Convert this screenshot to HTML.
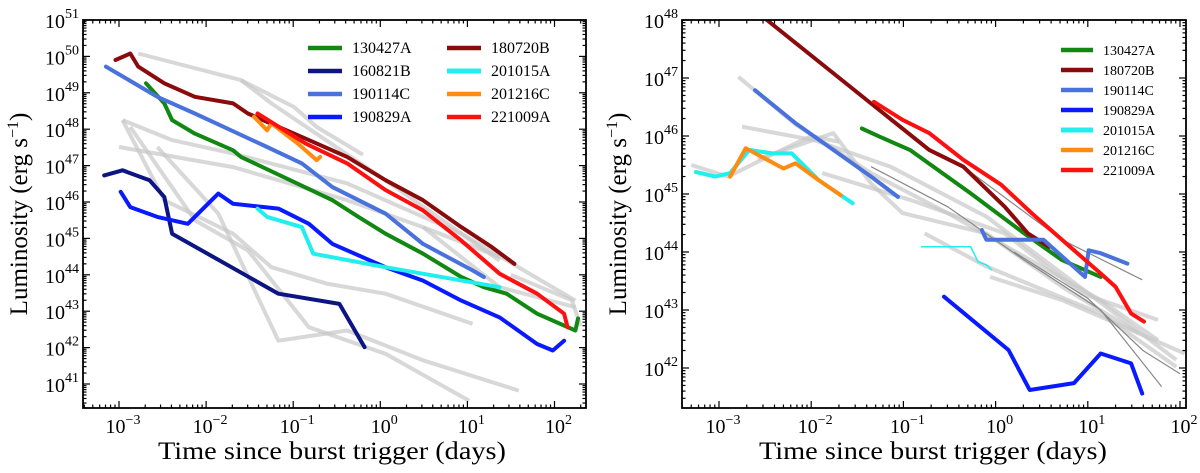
<!DOCTYPE html>
<html><head><meta charset="utf-8"><style>
html,body{margin:0;padding:0;background:#fff;}
svg{display:block;font-family:"Liberation Serif",serif;}
</style></head><body>
<svg id="fig" width="1200" height="473" viewBox="0 0 1200 473"></svg>
<script>
// ---------- LEFT PANEL DATA (log10 days, log10 erg/s) ----------
const leftGray = [
 [[-2.78,50.08],[-1.60,49.35],[-1.25,48.71],[0.06,46.60],[1.37,44.39]],
 [[-2.96,48.25],[-2.39,47.70],[-1.69,47.33],[-0.38,46.51],[0.93,45.13],[2.24,43.29]],
 [[-3.0,47.51],[-1.69,46.96],[-0.38,46.05],[0.49,45.31],[1.37,44.49]],
 [[-2.96,48.25],[-2.48,46.05],[-1.69,45.13],[-1.25,44.21],[-0.60,43.75],[0.06,43.48],[1.06,42.65]],
 [[-2.87,48.06],[-2.13,45.50],[-1.52,44.67],[-0.82,42.56],[0.06,41.83],[1.02,40.54]],
 [[-2.56,47.51],[-1.86,45.68],[-1.17,42.19],[-0.38,42.47],[0.49,41.65],[1.59,40.82]],
 [[-1.60,49.35],[-0.99,48.61],[-0.73,48.06],[-0.2,47.3]],
 [[0.49,45.31],[1.37,43.66],[2.24,43.11]],
 [[1.5,44.0],[2.2,43.3],[2.3,42.6]]
];
const leftNames = ["130427A","160821B","190114C","190829A","180720B","201015A","201216C","221009A"];
const leftColors = ["#118811","#0c1583","#4a72dc","#0a1aff","#8a0b0b","#22eeee","#ff8c10","#ff1010"];
const leftSeries = [
 [[-2.69,49.26],[-2.48,48.71],[-2.39,48.25],[-2.13,47.88],[-1.69,47.42],[-1.60,47.24],[-0.55,46.05],[-0.25,45.59],[0.06,45.13],[0.49,44.58],[0.93,43.94],[1.19,43.66],[1.45,43.48],[1.80,42.93],[2.24,42.47],[2.27,42.8]],
 [[-3.17,46.73],[-2.96,46.87],[-2.65,46.60],[-2.48,46.14],[-2.39,45.13],[-1.17,43.48],[-0.47,43.20],[-0.18,42.01]],
 [[-3.15,49.72],[-2.56,48.89],[-2.13,48.43],[-1.30,47.51],[-0.90,47.06],[-0.55,46.41],[0.06,45.68],[0.49,44.85],[1.06,44.12],[1.19,43.94]],
 [[-2.98,46.28],[-2.87,45.86],[-2.56,45.59],[-2.21,45.40],[-1.86,46.23],[-1.69,45.95],[-1.17,45.82],[-0.82,45.40],[-0.55,44.85],[0.06,44.21],[0.49,43.84],[0.93,43.29],[1.37,42.83],[1.80,42.10],[1.98,41.92],[2.11,42.19]],
 [[-3.04,49.90],[-2.87,50.08],[-2.78,49.72],[-2.48,49.26],[-2.13,48.89],[-1.69,48.71],[-1.52,48.43],[-0.82,47.70],[-0.38,47.24],[0.06,46.60],[0.49,46.05],[0.93,45.31],[1.28,44.76],[1.54,44.30]],
 [[-1.41,45.82],[-1.30,45.59],[-0.90,45.31],[-0.77,44.58],[0.06,44.21],[1.37,43.66]],
 [[-1.45,48.34],[-1.30,47.97],[-1.25,48.16],[-0.95,47.61],[-0.73,47.15],[-0.69,47.24]],
 [[-1.41,48.43],[-0.86,47.61],[-0.38,47.06],[0.06,46.33],[0.49,45.77],[0.93,44.94],[1.37,44.03],[1.80,43.48],[2.11,42.93],[2.15,42.56]]
];
const leftXTicks = [-3,-2,-1,0,1,2];
const leftYTicks = [41,42,43,44,45,46,47,48,49,50,51];

// ---------- RIGHT PANEL DATA ----------
const rightGray = [
 [[-2.79,47.02],[-2.17,46.2],[-1.35,45.36],[-0.52,44.67],[0.31,43.92],[1.14,43.17],[1.76,42.48]],
 [[-2.75,46.16],[-1.97,45.93],[-1.14,45.47],[-0.10,44.61],[0.72,43.63],[1.96,42.14]],
 [[-2.58,45.6],[-1.76,46.05],[-1.35,45.18],[-1.01,44.67],[-0.10,44.32],[0.72,43.40],[1.55,42.60]],
 [[-1.88,45.36],[-0.93,44.90],[0.10,44.32],[0.93,43.29],[1.76,42.83]],
 [[-0.77,44.32],[-0.10,43.75],[1.14,42.94],[1.96,42.02]],
 [[-0.06,43.57],[0.72,43.17],[1.55,42.60],[2.05,42.25]],
 [[-3.3,45.5],[-2.9,45.3],[-2.4,45.7],[-2.0,46.0],[-1.7,45.9]]
];
const rightThin = [
 [[-1.35,45.47],[-0.52,44.78],[0.31,43.86],[1.14,43.00],[1.80,41.68]],
 [[-0.35,45.47],[0.72,44.21],[1.59,43.52]],
 [[0.2,44.0],[1.0,43.2],[1.6,42.3],[2.0,41.9]]
];
const rightNames = ["130427A","180720B","190114C","190829A","201015A","201216C","221009A"];
const rightColors = ["#118811","#8a0b0b","#4a72dc","#0a1aff","#22eeee","#ff8c10","#ff1010"];
const rightSeries = [
 [[[-1.45,46.13],[-1.26,45.99],[-0.93,45.76],[-0.27,45.01],[0.31,44.32],[0.72,43.86],[1.14,43.57]]],
 [[[-2.48,48.0],[-1.35,46.56],[-0.72,45.76],[-0.35,45.47],[0.10,44.78],[0.35,44.32],[0.58,44.09]]],
 [[[-2.61,46.79],[-2.17,46.22],[-1.76,45.76],[-1.35,45.30],[-1.06,44.95]],
  [[-0.15,44.38],[-0.10,44.21],[0.52,44.21],[0.97,43.57],[1.01,44.03],[1.14,43.98],[1.43,43.80]]],
 [[[-0.56,43.23],[0.14,42.31],[0.37,41.62],[0.85,41.74],[1.14,42.25],[1.47,42.08],[1.59,41.56]]],
 [[[-3.25,45.38],[-3.04,45.30],[-2.88,45.36],[-2.67,45.76],[-2.42,45.70],[-2.21,45.70],[-1.92,45.24],[-1.55,44.84]]],
 [[[-2.88,45.30],[-2.71,45.79],[-2.30,45.44],[-2.17,45.53],[-1.92,45.24],[-1.68,44.98]]],
 [[[-1.32,46.59],[-1.01,46.28],[-0.72,46.05],[-0.35,45.59],[0.06,45.16],[0.39,44.67],[0.72,44.21],[1.14,43.63],[1.30,43.40],[1.47,42.94],[1.61,42.80]]]
];
const rightCyanThin = [[-0.81,44.09],[-0.27,44.09],[-0.19,43.83],[-0.10,43.78],[-0.04,43.69]];
const rightXTicks = [-3,-2,-1,0,1,2];
const rightYTicks = [42,43,44,45,46,47,48];

const NS="http://www.w3.org/2000/svg";
const svg=document.getElementById('fig');
function mk(tag,attrs,parent){const e=document.createElementNS(NS,tag);for(const k in attrs)e.setAttribute(k,attrs[k]);(parent||svg).appendChild(e);return e;}

function panel(cfg){
 const g=mk('g',{});
 
 
 const sx=v=>cfg.x0+(v-cfg.xt0)*cfg.dx;
 const sy=v=>cfg.yTop+(cfg.yMaxV-v)*cfg.dy;
 const clip='clip-'+cfg.name;
 const defs=mk('defs',{},g);
 const cp=mk('clipPath',{id:clip},defs);
 mk('rect',{x:cfg.L,y:cfg.T,width:cfg.R-cfg.L,height:cfg.B-cfg.T},cp);
 const plot=mk('g',{'clip-path':'url(#'+clip+')'},g);
 const pts=a=>a.map(p=>sx(p[0]).toFixed(1)+','+sy(p[1]).toFixed(1)).join(' ');
 cfg.gray.forEach(s=>{
  const e=mk('polyline',{points:pts(s),fill:'none',stroke:'#c8c8c8','stroke-opacity':'0.7','stroke-width':4,'stroke-linejoin':'round'},plot);
  
  
 });
 (cfg.thin||[]).forEach(s=>{
  const e=mk('polyline',{points:pts(s),fill:'none',stroke:'#888','stroke-width':1.2},plot);
  
  
 });
 cfg.series.forEach((s,i)=>{
  const segs=cfg.segmented?s:[s];
  segs.forEach(seg=>{
   const e=mk('polyline',{points:pts(seg),fill:'none',stroke:cfg.colors[i],'stroke-width':4,'stroke-linejoin':'round','stroke-linecap':'round'},plot);
   
   
  });
 });
 if(cfg.cyanThin){
  const e=mk('polyline',{points:pts(cfg.cyanThin),fill:'none',stroke:'#22eeee','stroke-width':1.5},plot);
  
  
 }
 const fr=mk('rect',{x:cfg.L,y:cfg.T,width:cfg.R-cfg.L,height:cfg.B-cfg.T,fill:'none',stroke:'#000','stroke-width':1.8},g);
 
 
 for(let d=cfg.xt0-1; d<=cfg.xTicks[cfg.xTicks.length-1]; d++){
  for(let m=1;m<10;m++){
   const v=d+Math.log10(m), x=sx(v);
   if(x<cfg.L||x>cfg.R)continue;
   const len=m===1?7:3.5;
   mk('line',{x1:x,x2:x,y1:cfg.B,y2:cfg.B-len,stroke:'#000','stroke-width':1.2},g);
   mk('line',{x1:x,x2:x,y1:cfg.T,y2:cfg.T+len,stroke:'#000','stroke-width':1.2},g);
  }
 }
 cfg.xTicks.forEach(t=>{
  const tx=mk('text',{x:sx(t)+4,y:433,'text-anchor':'middle','font-size':20},g);
  
  
  tx.textContent='10';
  const sp=mk('tspan',{dy:-9,'font-size':14},tx); sp.textContent=String(t).replace('-','\u2212');
 });
 for(let d=cfg.yTicks[0]-1; d<=cfg.yMaxV; d++){
  for(let m=1;m<10;m++){
   const v=d+Math.log10(m), y=sy(v);
   if(y<cfg.T-0.5||y>cfg.B)continue;
   const len=m===1?7:3.5;
   mk('line',{x1:cfg.L,x2:cfg.L+len,y1:y,y2:y,stroke:'#000','stroke-width':1.2},g);
   mk('line',{x1:cfg.R,x2:cfg.R-len,y1:y,y2:y,stroke:'#000','stroke-width':1.2},g);
  }
 }
 cfg.yTicks.forEach(t=>{
  const tx=mk('text',{x:cfg.L-4,y:sy(t)+8,'text-anchor':'end','font-size':20},g);
  
  
  tx.textContent='10';
  const sp=mk('tspan',{dy:-10,'font-size':14},tx); sp.textContent=String(t);
 });
 const xt=mk('text',{x:cfg.xtc,y:459,'text-anchor':'middle','font-size':25,textLength:348,lengthAdjust:'spacingAndGlyphs'},g);
 
 
 xt.textContent='Time since burst trigger (days)';
 const yt=mk('text',{x:0,y:0,'text-anchor':'middle','font-size':25,transform:'translate('+(cfg.L-56)+',214) rotate(-90)'},g);
 
 
 yt.textContent='Luminosity (erg s';
 const ys=mk('tspan',{dy:-9,'font-size':16},yt); ys.textContent='\u22121';
 const yc=mk('tspan',{dy:9},yt); yc.textContent=')';
 cfg.legend.forEach((L,i)=>{
  const lg=mk('g',{},g);
  
  
  mk('line',{x1:L.x,x2:L.x+L.w,y1:L.y,y2:L.y,stroke:cfg.colors[i],'stroke-width':cfg.names[i]==='201015A'?5:4.5},lg);
  const t=mk('text',{x:L.x+L.w+10,y:L.y+5,'font-size':cfg.lfs},lg); t.textContent=cfg.names[i];
 });
}

const leftLegend=[{x:308,y:48},{x:308,y:71},{x:308,y:94},{x:308,y:117},{x:447,y:48},{x:447,y:71},{x:447,y:94},{x:447,y:117}].map(o=>({...o,w:34}));
const rightLegend=[0,1,2,3,4,5,6].map(i=>({x:1061,y:50+i*20,w:32}));

panel({name:'left-panel',L:83,R:586,T:20,B:408,x0:119,xt0:-3,dx:87.1,yTop:20,yMaxV:51,dy:36.4,xtc:332,
 gray:leftGray,series:leftSeries,colors:leftColors,names:leftNames,xTicks:leftXTicks,yTicks:leftYTicks,legend:leftLegend,lfs:16});
panel({name:'right-panel',L:682,R:1186,T:20,B:408,x0:719,xt0:-3,dx:92.2,yTop:20,yMaxV:48,dy:58,xtc:933,
 gray:rightGray,thin:rightThin,series:rightSeries,segmented:true,cyanThin:rightCyanThin,colors:rightColors,names:rightNames,xTicks:rightXTicks,yTicks:rightYTicks,legend:rightLegend,lfs:14});
</script>
</body></html>
